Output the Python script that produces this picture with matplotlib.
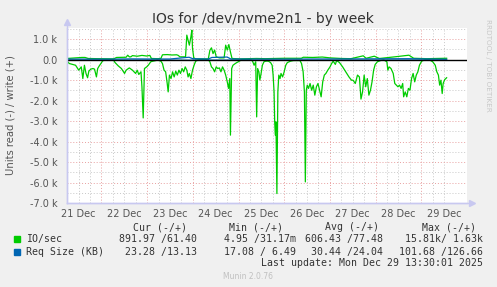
import matplotlib
matplotlib.use("Agg")
import matplotlib.pyplot as plt
from matplotlib.lines import Line2D

# hours counted from 21 Dec 00:00
read_hours = [6.25, 7.08, 8.74, 10.4, 12.06, 13.39, 14.22, 15.05, 15.88, 16.71, 17.37, 18.37,
              19.53, 20.36, 21.36, 22.02, 22.85, 23.68, 24.51, 25.34, 27.83, 30.32, 31.15, 32.81,
              34.47, 36.13, 36.96, 38.62, 40.28, 41.11, 41.94, 42.77, 43.6, 44.76, 45.26, 45.92,
              46.59, 47.75, 48.58, 49.91, 51.07, 53.56, 55.22, 56.05, 56.88, 57.71, 58.54, 59.04,
              59.7, 60.53, 61.36, 62.19, 63.02, 63.85, 64.68, 65.51, 66.34, 67.17, 68.0, 68.83,
              69.5, 70.16, 70.99, 71.82, 72.65, 73.48, 75.14, 78.46, 80.12, 80.95, 81.78, 82.61,
              83.44, 84.27, 85.1, 85.93, 86.76, 87.59, 88.42, 89.25, 90.08, 90.74, 91.41, 91.74,
              92.4, 93.07, 94.23, 95.06, 95.89, 97.55, 102.53, 103.36, 104.19, 105.02, 105.52,
              106.03, 106.69, 107.19, 107.85, 108.52, 109.35, 110.34, 111.67, 112.83, 113.66,
              114.16, 114.66, 114.99, 115.32, 115.65, 116.15, 116.65, 117.15, 117.81, 118.31,
              119.14, 119.97, 120.8, 121.63, 123.29, 124.95, 128.27, 129.1, 129.93, 130.6, 131.09,
              131.59, 132.09, 132.75, 133.58, 134.41, 135.24, 136.07, 136.9, 137.73, 138.56,
              139.39, 140.22, 141.05, 141.88, 142.88, 144.04, 144.87, 145.7, 146.86, 147.53,
              149.02, 150.68, 152.34, 154.0, 155.33, 156.16, 157.32, 158.48, 159.48, 160.31,
              161.14, 161.97, 162.8, 163.63, 164.46, 165.29, 166.12, 166.95, 167.78, 168.94,
              170.6, 172.26, 173.92, 174.42, 175.08, 176.08, 177.24, 178.07, 178.9, 179.73,
              180.56, 181.39, 182.22, 182.72, 183.55, 184.38, 185.21, 186.04, 186.87, 187.7,
              188.53, 189.36, 190.19, 191.02, 192.18, 193.84, 196.33, 197.99, 199.32, 200.15,
              200.98, 201.64, 202.31, 202.97, 203.47, 204.3, 205.3]
io_read = [110, 195, 240, 280, 520, 360, 930, 280, 680, 890, 570, 470,
           440, 470, 850, 440, 310, 200, 80, 30, 30, 30, 150, 310,
           440, 680, 520, 410, 520, 600, 680, 520, 730, 600, 1330, 2850,
           440, 360, 280, 110, 80, 30, 80, 200, 520, 600, 1170, 1580,
           760, 930, 600, 850, 570, 760, 520, 680, 440, 600, 360, 520,
           850, 680, 930, 520, 280, 80, 15, 15, 15, 110, 360, 440,
           600, 360, 440, 410, 600, 360, 520, 760, 1090, 1410, 930, 3690,
           440, 280, 200, 150, 110, 15, 15, 80, 280, 110, 2800,
           440, 600, 1000, 680, 280, 110, 80, 80, 150, 280,
           760, 1580, 3040, 3690, 3040, 6540, 1580, 760, 930, 680,
           850, 600, 280, 150, 80, 50, 50, 200, 600, 1580, 5970,
           1500, 1250, 1410, 1170, 1500, 1250, 1740, 1330, 1170, 1500,
           1820, 1090, 760, 680, 520, 360, 200, 80, 240, 50,
           150, 360, 600, 850, 1010, 1010, 1170, 760, 850, 1930,
           1580, 760, 1330, 930, 1740, 1500, 1090, 520, 240, 110,
           50, 20, 110, 520, 360, 440, 680, 1170, 1250, 1330,
           1250, 1410, 1170, 1820, 1580, 1820, 1410, 1500, 930, 680,
           1090, 760, 600, 280, 80, 20, 20, 110, 280, 600,
           760, 1250, 1010, 1660, 1170, 980, 890]

write_hours = [5.9, 13.72, 15.38, 17.04, 22.02, 30.32, 31.98, 36.96, 37.79, 38.62, 39.45, 40.28,
               42.77, 45.26, 47.75, 49.41, 50.24, 53.56, 55.22, 56.05, 58.54, 61.03, 63.52, 64.35,
               65.18, 66.84, 68.17, 68.83, 69.5, 70.16, 70.99, 71.49, 71.82, 72.49, 73.48, 80.12,
               80.95, 81.78, 82.61, 83.44, 84.27, 85.93, 88.42, 89.25, 90.08, 90.91, 91.74, 92.57,
               96.72, 105.5, 110, 120, 129, 130, 135, 140, 144, 150, 155, 161.5, 163, 167.3, 170,
               178, 185.5, 188, 195, 205.3]
io_write = [50, 100, 100, 50, 40, 30, 100, 110, 210, 130, 130, 190,
            160, 200, 170, 200, 50, 40, 50, 230, 240, 220, 230, 200,
            130, 130, 130, 1190, 940, 700, 1110, 1430, 540, 80, 30, 30,
            450, 570, 290, 460, 130, 80, 80, 700, 460, 730, 370, 50,
            30, 50, 40, 60, 60, 110, 100, 120, 80, 50, 40, 180, 60, 160, 50,
            130, 210, 60, 40, 61]

req_hours = [5.9, 30, 40, 50, 60, 70, 72, 80, 82, 90, 92, 120, 160, 185, 205.3]
req_write = [20, 20, 30, 25, 25, 110, 40, 20, 100, 120, 25, 20, 30, 40, 13]
req_read = [25, 30, 30, 28, 30, 35, 30, 25, 30, 30, 28, 35, 30, 25, 23]

day_labels = ['21 Dec', '22 Dec', '23 Dec', '24 Dec', '25 Dec', '26 Dec', '27 Dec', '28 Dec', '29 Dec']
y_ticks = [1000, 0, -1000, -2000, -3000, -4000, -5000, -6000, -7000]

GREEN = '#00CC00'
BLUE = '#0066B3'
BG = '#F0F0F0'
TXT = '#555555'

fig = plt.figure(figsize=(4.97, 2.87), dpi=100, facecolor=BG)
W, H = 497.0, 287.0
ax = fig.add_axes([67 / W, 1 - 203 / H, 400 / W, 175 / H])
ax.set_facecolor('white')

ax.plot(read_hours, [-v for v in io_read], color=GREEN, lw=0.9, zorder=3)
ax.plot(write_hours, io_write, color=GREEN, lw=0.9, zorder=3)
ax.plot(req_hours, [-v for v in req_read], color=BLUE, lw=0.9, zorder=4)
ax.plot(req_hours, req_write, color=BLUE, lw=0.9, zorder=4)
ax.axhline(0, color='black', lw=1.0, zorder=5)

ax.set_xlim(5.9, 205.8)
ax.set_ylim(-7000, 1537)

# grid: red for days / 1k, gray for 6h / 0.5k
ax.set_xticks([24 * (i + 1) for i in range(len(day_labels))])
ax.set_xticks([6 * i for i in range(1, 35)], minor=True)
ax.set_yticks(y_ticks)
ax.set_yticks([-6500, -5500, -4500, -3500, -2500, -1500, -500, 500, 1500], minor=True)
ax.grid(which='major', color='#E8A0A0', lw=0.7, ls=(0, (1, 2)), zorder=1)
ax.grid(which='minor', color='#C8C8C8', lw=0.7, ls=(0, (1, 2)), zorder=1)
ax.tick_params(which='both', length=0, labelbottom=False)
ax.set_yticklabels(['%.1f k' % (t / 1000.0) if t != 0 else '0.0' for t in y_ticks],
                   fontsize=7, color=TXT)
ax.tick_params(axis='y', pad=7)

for i, lab in enumerate(day_labels):
    ax.text(12 + 24 * i, -0.035, lab, transform=ax.get_xaxis_transform(),
            ha='center', va='top', fontsize=7, color=TXT)

for s in ['top', 'right']:
    ax.spines[s].set_visible(False)
for s in ['left', 'bottom']:
    ax.spines[s].set_color('#C8C8F0')
    ax.spines[s].set_linewidth(1.0)

# axis arrows
fig.add_artist(Line2D([67 / W, 67 / W], [1 - 203 / H, 1 - 22 / H], color='#C8C8F0', lw=1.0))
fig.add_artist(Line2D([67 / W, 472 / W], [1 - 203 / H, 1 - 203 / H], color='#C8C8F0', lw=1.0))
fig.add_artist(Line2D([67 / W], [1 - 22 / H], marker='^', color='#C8C8F0', ms=5))
fig.add_artist(Line2D([472 / W], [1 - 203 / H], marker='>', color='#C8C8F0', ms=5))

fig.text(263 / W, 1 - 19 / H, 'IOs for /dev/nvme2n1 - by week', ha='center', va='center',
         fontsize=10, color='#333333')
fig.text(11 / W, 1 - 115 / H, 'Units read (-) / write (+)', rotation=90, ha='center', va='center',
         fontsize=7.2, color=TXT)
fig.text(488 / W, 1 - 65 / H, 'RRDTOOL / TOBI OETIKER', rotation=270, ha='center', va='center',
         fontsize=5.2, color='#C8C8C8')

mono = dict(family='DejaVu Sans Mono', fontsize=7.1, color='#333333', va='center')
headers = [('Cur (-/+)', 187), ('Min (-/+)', 283), ('Avg (-/+)', 379), ('Max (-/+)', 476)]
for txt, xr in headers:
    fig.text(xr / W, 1 - 227 / H, txt, ha='right', **mono)

rows = [
    (GREEN, 'IO/sec', 239.3, ['891.97 /61.40', '4.95 /31.17m', '606.43 /77.48', '15.81k/ 1.63k']),
    (BLUE, 'Req Size (KB)', 251.7, ['23.28 /13.13', '17.08 / 6.49', '30.44 /24.04', '101.68 /126.66']),
]
rights = [197, 296, 383, 483]
for col, name, yy, vals in rows:
    fig.add_artist(Line2D([17 / W], [1 - yy / H], marker='s', color=col, ms=4.5))
    fig.text(26 / W, 1 - yy / H, name, ha='left', **mono)
    for v, xr in zip(vals, rights):
        fig.text(xr / W, 1 - yy / H, v, ha='right', **mono)

fig.text(483 / W, 1 - 263.3 / H, 'Last update: Mon Dec 29 13:30:01 2025', ha='right', **mono)
fig.text(248 / W, 1 - 276.7 / H, 'Munin 2.0.76', ha='center', va='center', fontsize=5.5, color='#C0C0C0')

fig.savefig('out.png', dpi=100, facecolor=BG)
